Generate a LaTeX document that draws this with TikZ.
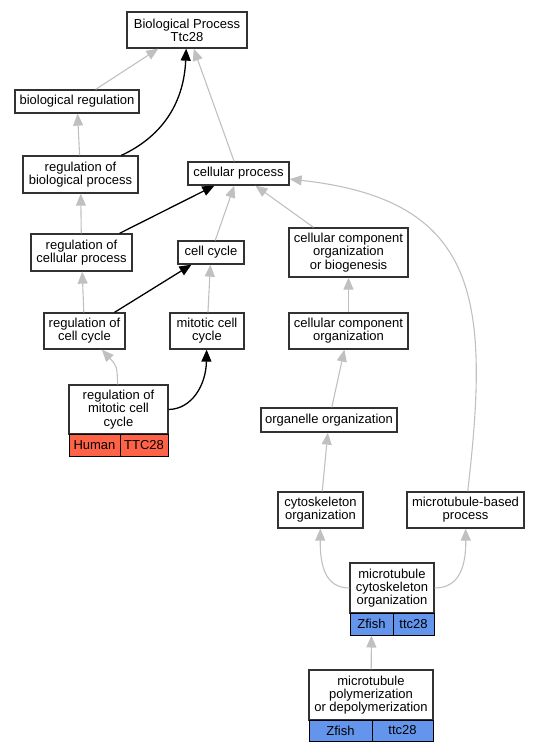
\documentclass[tikz,border=0pt]{standalone}
\usepackage{fontspec}
\setmainfont{Liberation Sans}
\usetikzlibrary{arrows.meta}
\definecolor{termred}{RGB}{255,99,71}
\definecolor{termblue}{RGB}{100,149,237}
\definecolor{edgegray}{RGB}{192,192,192}
\definecolor{boxline}{RGB}{50,50,50}

\begin{document}
\begin{tikzpicture}[x=1pt,y=-1pt,
	term/.style={draw=boxline, line width=1.3pt, fill=white, inner sep=0pt, align=center, font=\fontsize{13}{13.2}\selectfont},
	tag/.style={term, draw=black, line width=1pt},
	isa/.style={edgegray, line width=1.1pt, -{Triangle[length=12pt,width=10pt]}},
	reg/.style={black, line width=1.3pt, -{Triangle[length=12pt,width=10pt]}}]
	\useasboundingbox (0,0) rectangle (539,752);

	\node[term, minimum width=120pt, minimum height=36pt] (bp) at (187,30) {Biological Process\\Ttc28};
	\node[term, minimum width=124pt, minimum height=23pt] (breg) at (77,101.5) {biological regulation};
	\node[term, minimum width=115pt, minimum height=37pt] (rbp) at (80.5,174.5) {regulation of\\biological process};
	\node[term, minimum width=101pt, minimum height=23pt] (cp) at (238.5,173.5) {cellular process};
	\node[term, minimum width=101pt, minimum height=37pt] (rcp) at (81.5,252.5) {regulation of\\cellular process};
	\node[term, minimum width=66pt, minimum height=23pt] (cc) at (211,252.5) {cell cycle};
	\node[term, minimum width=119pt, minimum height=49pt] (ccob) at (348.5,252.5) {cellular component\\organization\\or biogenesis};
	\node[term, minimum width=81pt, minimum height=36pt] (rcc) at (84.5,331) {regulation of\\cell cycle};
	\node[term, minimum width=74pt, minimum height=36pt] (mcc) at (207,331) {mitotic cell\\cycle};
	\node[term, minimum width=119pt, minimum height=36pt] (cco) at (348.5,331) {cellular component\\organization};

	\node[term, minimum width=99pt, minimum height=49pt] (rmcc) at (118.5,409.5) {regulation of\\mitotic cell\\cycle};
	\node[tag, fill=termred, minimum width=51pt, minimum height=22pt] (rmccA) at (94.5,445) {Human};
	\node[tag, fill=termred, minimum width=48pt, minimum height=22pt] (rmccB) at (144,445) {TTC28};

	\node[term, minimum width=136pt, minimum height=24pt] (oo) at (329,420) {organelle organization};
	\node[term, minimum width=85pt, minimum height=36pt] (cso) at (320.5,510) {cytoskeleton\\organization};
	\node[term, minimum width=117pt, minimum height=36pt] (mbp) at (465.5,510) {microtubule-based\\process};

	\node[term, minimum width=84pt, minimum height=50pt] (mco) at (392,588) {microtubule\\cytoskeleton\\organization};
	\node[tag, fill=termblue, minimum width=43pt, minimum height=22pt] (mcoA) at (371.5,624) {Zfish};
	\node[tag, fill=termblue, minimum width=41pt, minimum height=22pt] (mcoB) at (413.5,624) {ttc28};

	\node[term, minimum width=124pt, minimum height=50pt] (mpd) at (371,695) {microtubule\\polymerization\\or depolymerization};
	\node[tag, fill=termblue, minimum width=63pt, minimum height=21pt] (mpdA) at (340.5,730.5) {Zfish};
	\node[tag, fill=termblue, minimum width=61pt, minimum height=21pt] (mpdB) at (402.5,730.5) {ttc28};

	\draw[isa] (breg) -- (bp);
	\draw[reg] (rbp) .. controls (165,135) and (184,100) .. (bp);
	\draw[isa] (cp) -- (bp);
	\draw[isa] (rbp) -- (breg);
	\draw[isa] (rcp) -- (rbp);
	\draw[reg] (rcp) -- (cp);
	\draw[isa] (cc) -- (cp);
	\draw[isa] (ccob) -- (cp);
	\draw[isa] (mbp) .. controls (490,300) and (480,200) .. (cp);
	\draw[isa] (rcc) -- (rcp);
	\draw[reg] (rcc) -- (cc);
	\draw[isa] (mcc) -- (cc);
	\draw[isa] (cco) -- (ccob);
	\draw[isa] (rmcc) .. controls (117,366) .. (rcc);
	\draw[reg] (rmcc.east) .. controls (192,409) and (206,385) .. (mcc);
	\draw[isa] (oo) -- (cco);
	\draw[isa] (cso) -- (oo);
	\draw[isa] (mco.west) .. controls (325,588) and (320,565) .. (cso);
	\draw[isa] (mco.east) .. controls (460,588) and (466,565) .. (mbp);
	\draw[isa] (mpd) -- (mcoA);
\end{tikzpicture}
\end{document}
